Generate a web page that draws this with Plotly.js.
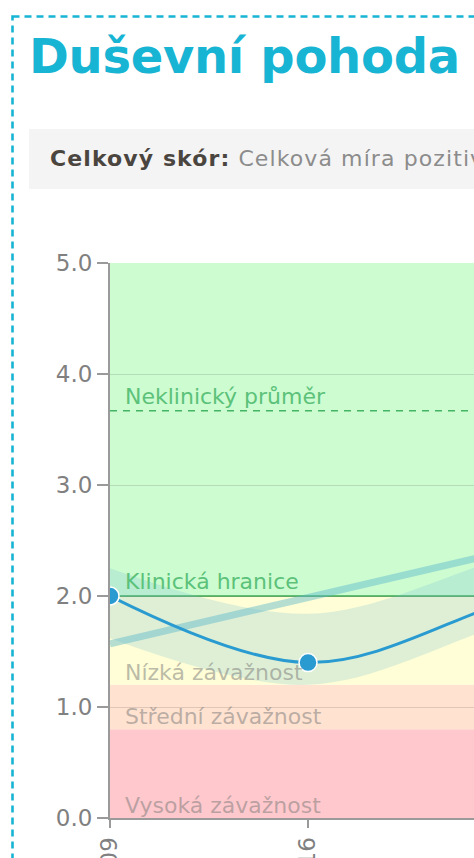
<!DOCTYPE html>
<html>
<head>
<meta charset="utf-8">
<script src="https://cdn.plot.ly/plotly-3.0.1.min.js"></script>
<style>
  html, body { margin: 0; padding: 0; width: 474px; height: 858px; overflow: hidden; background: #fff; }
  #frame { position: absolute; left: 0; top: 0; }
  #title { position: absolute; left: 29px; top: 32px; font: bold 48px/48px "DejaVu Sans", sans-serif;
           color: #17b4d3; white-space: nowrap; letter-spacing: -0.3px; }
  #info { position: absolute; left: 29px; top: 129px; width: 1000px; height: 60px; background: #f4f4f4;
          font: 22px/60px "DejaVu Sans", sans-serif; color: #8c8c8c; padding-left: 21px; white-space: nowrap;
          letter-spacing: 1.1px; }
  #info b { color: #4b4540; }
  #chart { position: absolute; left: 20px; top: 210px; width: 714px; height: 738px; }
</style>
</head>
<body>
<svg id="frame" width="1100" height="1100">
  <rect x="12.5" y="16.5" width="1000" height="1000" fill="none" stroke="#17b4d3" stroke-width="2.6" stroke-dasharray="7 5"/>
</svg>
<div id="title">Duševní pohoda (MHC-SF)</div>
<div id="info"><b>Celkový skór:</b> Celková míra pozitivního duševního zdraví</div>
<div id="chart"></div>
<script>
// measurement dates and scores
let dates = ['2024-01-09', '2024-01-16', '2024-01-23', '2024-01-30'];
let scores = [2.0, 1.4, 1.95, 2.6];

// smoothed band around the scores
let bandUpper = [2.25, 1.84, 2.35, 2.9];
let bandLower = [1.62, 1.2, 1.75, 2.3];

// linear trend, first and last date
let trendDates = [dates[0], dates[dates.length - 1]];
let trendValues = [1.57, 2.82];

// severity zones (lower, upper, colour, label)
let zoneLow = [0, 0.8, 1.2, 2.0];
let zoneHigh = [0.8, 1.2, 2.0, 5.0];
let zoneColors = ['#ffc8cc', '#ffe2d0', '#fffed6', '#cdfcd1'];
let zoneLabels = ['Vysoká závažnost', 'Střední závažnost', 'Nízká závažnost', ''];

// reference lines
let clinicalCutoff = 2.0;
let nonClinicalMean = 3.67;

let shapes = [];
let annotations = [];
for (let i = 0; i < zoneLow.length; i++) {
  shapes.push({
    type: 'rect', xref: 'paper', yref: 'y', x0: 0, x1: 1,
    y0: zoneLow[i], y1: zoneHigh[i],
    fillcolor: zoneColors[i], line: {width: 0}, layer: 'below'
  });
  if (zoneLabels[i]) {
    annotations.push({
      xref: 'paper', yref: 'y', x: 0, y: zoneLow[i], xanchor: 'left', yanchor: 'bottom',
      xshift: 13, yshift: -2, showarrow: false, text: zoneLabels[i],
      font: {family: 'DejaVu Sans', size: 22, color: 'rgba(120,120,120,0.5)'}
    });
  }
}
shapes.push({
  type: 'line', xref: 'paper', yref: 'y', x0: 0, x1: 1, y0: clinicalCutoff, y1: clinicalCutoff,
  line: {color: '#3aad52', width: 1.5}, layer: 'below'
});
shapes.push({
  type: 'line', xref: 'paper', yref: 'y', x0: 0, x1: 1, y0: nonClinicalMean, y1: nonClinicalMean,
  line: {color: '#45b464', width: 1.5, dash: '7px,6px'}, layer: 'below'
});
annotations.push({
  xref: 'paper', yref: 'y', x: 0, y: clinicalCutoff, xanchor: 'left', yanchor: 'bottom',
  xshift: 13, yshift: 0, showarrow: false, text: 'Klinická hranice',
  font: {family: 'DejaVu Sans', size: 22, color: '#5cc27a'}
});
annotations.push({
  xref: 'paper', yref: 'y', x: 0, y: nonClinicalMean, xanchor: 'left', yanchor: 'bottom',
  xshift: 13, yshift: 0, showarrow: false, text: 'Neklinický průměr',
  font: {family: 'DejaVu Sans', size: 22, color: '#5cc27a'}
});

let lower = {
  x: dates, y: bandLower, mode: 'lines', line: {width: 0, shape: 'spline'},
  hoverinfo: 'skip', showlegend: false
};
let upper = {
  x: dates, y: bandUpper, mode: 'lines', line: {width: 0, shape: 'spline'},
  fill: 'tonexty', fillcolor: 'rgba(110,188,210,0.22)', hoverinfo: 'skip', showlegend: false
};
let trend = {
  x: trendDates, y: trendValues, mode: 'lines',
  line: {color: 'rgba(90,185,205,0.45)', width: 7}, hoverinfo: 'skip', showlegend: false
};
let scoreTrace = {
  x: dates, y: scores, mode: 'lines+markers',
  line: {color: '#2a9bd0', width: 3, shape: 'spline'},
  marker: {color: '#2a9bd0', size: 18, line: {color: '#ffffff', width: 1.5}},
  showlegend: false
};

let layout = {
  margin: {l: 90, t: 53, r: 30, b: 130},
  paper_bgcolor: 'rgba(0,0,0,0)',
  plot_bgcolor: 'rgba(0,0,0,0)',
  font: {family: 'DejaVu Sans', size: 23, color: '#808080'},
  showlegend: false,
  xaxis: {
    type: 'category', range: [0, dates.length - 1], showgrid: false,
    showline: true, linecolor: '#9a9a9a', linewidth: 2,
    ticks: 'outside', ticklen: 8, tickwidth: 2, tickcolor: '#9a9a9a',
    tickangle: -90, zeroline: false
  },
  yaxis: {
    range: [0, 5], dtick: 1, tickformat: '.1f', showgrid: true, gridcolor: 'rgba(0,0,0,0.12)',
    showline: true, linecolor: '#9a9a9a', linewidth: 2,
    ticks: 'outside', ticklen: 11, tickwidth: 2, tickcolor: '#9a9a9a', zeroline: false
  },
  shapes: shapes,
  annotations: annotations
};

Plotly.newPlot('chart', [lower, upper, trend, scoreTrace], layout, {displayModeBar: false, staticPlot: true});
</script>
</body>
</html>
